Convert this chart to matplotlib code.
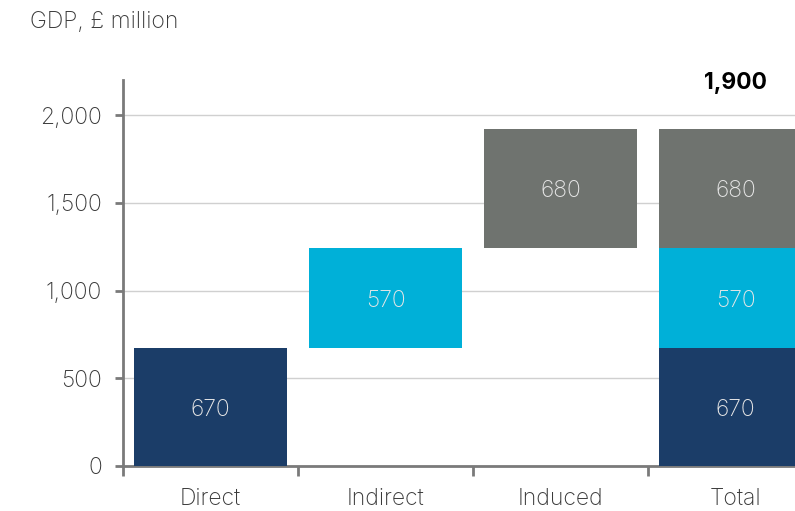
import numpy as np
import matplotlib.pyplot as plt

plt.rcParams['font.family'] = ['Inter', 'DejaVu Sans']

# GDP contribution, £ million
categories = ['Direct', 'Indirect', 'Induced', 'Total']
components = ['Direct', 'Indirect', 'Induced']
values = [670, 570, 680]
colors = ['#1b3d68', '#00b0d8', '#6f736f']

total = sum(values)
total_label = f'{int(round(total, -2)):,}'
bottoms = np.concatenate([[0], np.cumsum(values)[:-1]])

fig = plt.figure(figsize=(7.95, 5.11), dpi=100)
ax = fig.add_axes([0.1547, 0.0881, 0.8805, 0.7554])

fs = 16.5
txt_col = '#3a3a3a'
bar_w = 0.87
# waterfall steps
for i, (v, b, c) in enumerate(zip(values, bottoms, colors)):
    ax.bar(i, v, bottom=b, width=bar_w, color=c, zorder=3)
    ax.text(i, b + v / 2, f'{v:,}', ha='center', va='center_baseline',
            color='#e6e6e6', fontsize=fs, fontweight='light', zorder=4)

# stacked total
tot_x = len(components)
for v, b, c in zip(values, bottoms, colors):
    ax.bar(tot_x, v, bottom=b, width=bar_w, color=c, zorder=3)
    ax.text(tot_x, b + v / 2, f'{v:,}', ha='center', va='center_baseline',
            color='#e6e6e6', fontsize=fs, fontweight='light', zorder=4)
ax.text(tot_x, 2180, total_label, ha='center', va='center',
        fontsize=fs, fontweight='bold', color='black')

ax.set_xlim(-0.5, 3.5)
ax.set_ylim(0, 2200)
ax.set_yticks([0, 500, 1000, 1500, 2000])
ax.set_yticklabels([f'{t:,}' for t in [0, 500, 1000, 1500, 2000]])
ax.yaxis.grid(True, color='#d0d0d0', linewidth=1, zorder=0)

ax.set_xticks(np.arange(len(categories)))
ax.set_xticklabels(categories)
ax.set_xticks(np.arange(len(categories) + 1) - 0.5, minor=True)
ax.tick_params(axis='x', which='major', length=0, pad=16, labelsize=fs,
               labelcolor=txt_col)
ax.tick_params(axis='x', which='minor', length=7, width=2, color='#7a7a7a')
ax.tick_params(axis='y', length=6, width=2, color='#7a7a7a', labelsize=fs,
               labelcolor=txt_col, pad=9)
for lbl in ax.get_xticklabels() + ax.get_yticklabels():
    lbl.set_fontweight('light')

for side in ['top', 'right']:
    ax.spines[side].set_visible(False)
for side in ['left', 'bottom']:
    ax.spines[side].set_color('#7a7a7a')
    ax.spines[side].set_linewidth(2)

fig.text(0.038, 0.957, 'GDP, £ million', ha='left', va='center',
         fontsize=fs, fontweight='light', color=txt_col)

fig.savefig('out.png', dpi=100)
